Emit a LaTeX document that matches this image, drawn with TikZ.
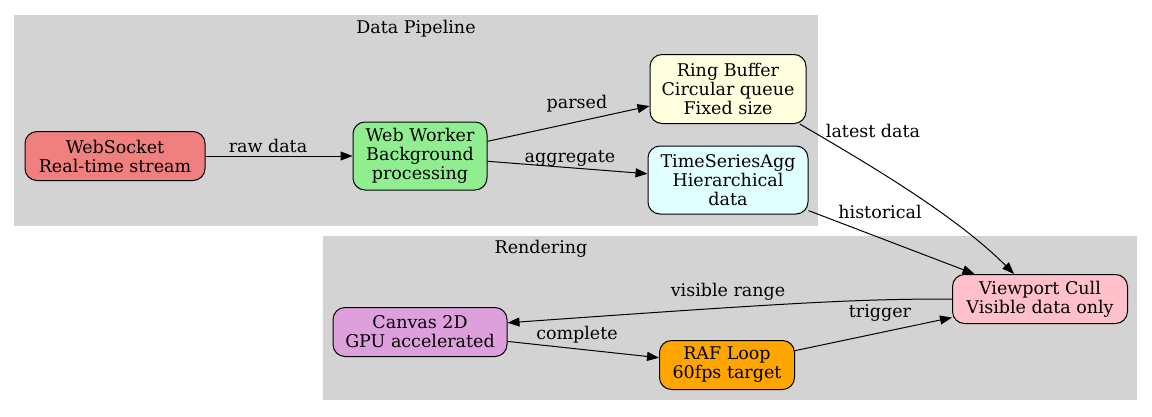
\documentclass[tikz,border=0pt]{standalone}
\usepackage{fontspec}
\setmainfont{DejaVu Serif}
\usetikzlibrary{arrows.meta}
\definecolor{clustergray}{HTML}{D3D3D3}
\definecolor{lightcoral}{HTML}{F08080}
\definecolor{lightgreen}{HTML}{90EE90}
\definecolor{lightyellow}{HTML}{FFFFE0}
\definecolor{lightcyan}{HTML}{E0FFFF}
\definecolor{pinkcull}{HTML}{FFC0CB}
\definecolor{plumcanvas}{HTML}{DDA0DD}
\definecolor{orangeraf}{HTML}{FFA500}
\newcommand\gvfont{\fontsize{17.5}{19}\selectfont}

\begin{document}
\begin{tikzpicture}[x=1pt,y=-1pt,
  box/.style={draw, line width=1pt, rounded corners=12pt, align=center, inner sep=0pt, font=\gvfont},
  flow/.style={-{Triangle[length=12pt,width=9pt]}, line width=1pt},
  lbl/.style={font=\gvfont, inner sep=0pt}]
\useasboundingbox (0,0) rectangle (1152,416);
% Clusters
\fill[clustergray] (14,15) rectangle (818,226);
\fill[clustergray] (323,236) rectangle (1137,400);
\node[lbl] (tpipe) at (416,29) {Data Pipeline};
\node[lbl] (trend) at (541,249) {Rendering};
% Data pipeline
\node[box, fill=lightcoral, minimum width=180pt, minimum height=49pt] (ws) at (115,156) {WebSocket\\Real-time stream};
\node[box, fill=lightgreen, minimum width=134pt, minimum height=68pt] (ww) at (420,156) {Web Worker\\Background\\processing};
\node[box, fill=lightyellow, minimum width=156pt, minimum height=69pt] (ring) at (728,89) {Ring Buffer\\Circular queue\\Fixed size};
\node[box, fill=lightcyan, minimum width=160pt, minimum height=68pt] (tsa) at (728,180) {TimeSeriesAgg\\Hierarchical\\data};
% Rendering
\node[box, fill=pinkcull, minimum width=175pt, minimum height=49pt] (vp) at (1040,299) {Viewport Cull\\Visible data only};
\node[box, fill=plumcanvas, minimum width=174pt, minimum height=49pt] (cv) at (420,332) {Canvas 2D\\GPU accelerated};
\node[box, fill=orangeraf, minimum width=135pt, minimum height=49pt] (raf) at (727,365) {RAF Loop\\60fps target};
% Connectors
\draw[flow] (ws) -- (ww);
\draw[flow] (ww) -- (ring);
\draw[flow] (ww) -- (tsa);
\draw[flow] (ring.-26) .. controls (870,165) and (955,215) .. (vp.136);
\draw[flow] (tsa) -- (vp);
\draw[flow] (vp.west) .. controls (860,299) and (800,302) .. (cv.6);
\draw[flow] (cv) -- (raf);
\draw[flow] (raf) -- (vp);
% Connector labels
\node[lbl] (lraw) at (268,146) {raw data};
\node[lbl] (lparsed) at (577,104) {parsed};
\node[lbl] (lagg) at (570,158) {aggregate};
\node[lbl] (llatest) at (873,131) {latest data};
\node[lbl] (lhist) at (880,212) {historical};
\node[lbl] (lvis) at (728,292) {visible range};
\node[lbl] (lcomp) at (577,335) {complete};
\node[lbl] (ltrig) at (880,313) {trigger};
\end{tikzpicture}
\end{document}
